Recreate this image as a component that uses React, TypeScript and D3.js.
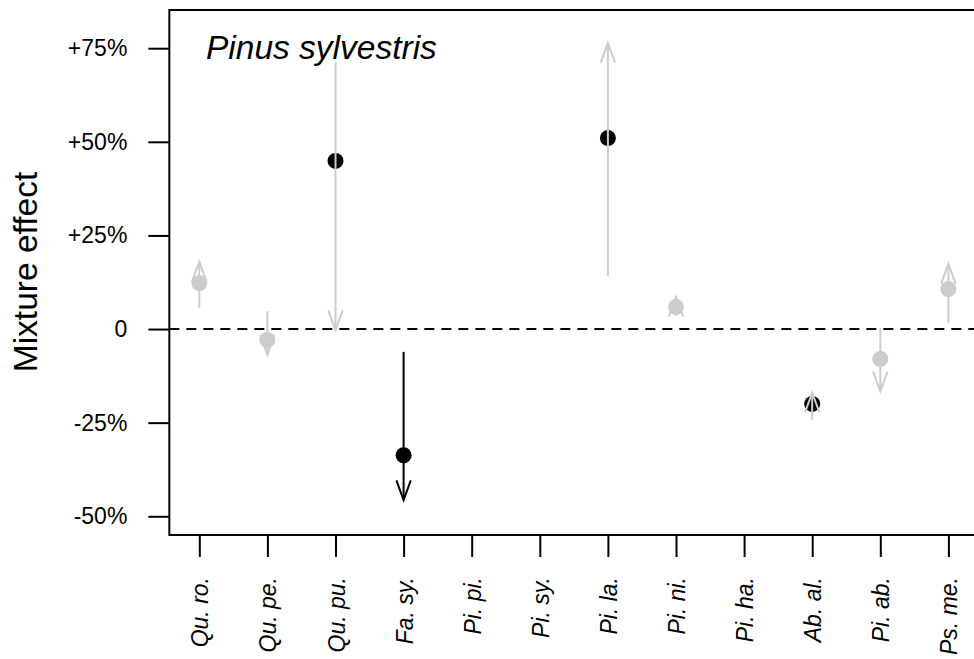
import React, { useEffect, useRef } from 'react';
import * as d3 from 'd3';

// species on the x axis
const species = ['Qu. ro.', 'Qu. pe.', 'Qu. pu.', 'Fa. sy.', 'Pi. pi.', 'Pi. sy.', 'Pi. la.', 'Pi. ni.', 'Pi. ha.', 'Ab. al.', 'Pi. ab.', 'Ps. me.'];
// mixture effect (%) per species, null = no estimate
const effect = [12.3, -2.9, 44.9, -33.7, null, null, 51.0, 5.9, null, -20.0, -8.0, 10.7];
// point drawn black (significant) or grey
const pointBlack = [false, false, true, true, false, false, true, false, false, true, false, false];
// arrows: start and tip (%)
const arrowFrom = [5.7, 4.8, 71.3, -6.1, null, null, 14.2, 3.5, null, -24.3, 0.2, 1.6];
const arrowTo = [18.0, -6.9, -0.3, -45.7, null, null, 76.4, 8.6, null, -17.0, -16.6, 17.4];
const arrowBlack = [false, false, false, true, false, false, false, false, false, false, false, false];

const yTicks = [-50, -25, 0, 25, 50, 75];
const yTickLabels = ['-50%', '-25%', '0', '+25%', '+50%', '+75%'];

const GREY = '#cccccc';
const FONT = 'Liberation Sans, Arial, sans-serif';

const App = () => {
  const ref = useRef<SVGSVGElement>(null);

  useEffect(() => {
    const width = 974;
    const height = 659;

    const svg = d3.select(ref.current);
    svg.selectAll('*').remove();

    // R style: 4% padding around the data range
    const x = d3.scaleLinear().domain([1, 12]).range([199.3, 948.4]);
    const y = d3.scaleLinear().domain([-55.0, 85.2]).range([535, 10]);
    const left = x(0.56);
    const right = x(12.44);
    const top = y(85.2);
    const bottom = y(-55.0);

    // zero line
    svg.append('line')
      .attr('x1', left).attr('x2', right)
      .attr('y1', y(0)).attr('y2', y(0))
      .attr('stroke', '#000')
      .attr('stroke-width', 2)
      .attr('stroke-dasharray', '10 7');

    // points
    species.forEach((s, i) => {
      if (effect[i] == null) return;
      svg.append('circle')
        .attr('cx', x(i + 1))
        .attr('cy', y(effect[i] as number))
        .attr('r', 8)
        .attr('fill', pointBlack[i] ? '#000' : GREY);
    });

    // arrows
    const headLen = 21;
    const ang = (20 * Math.PI) / 180;
    species.forEach((s, i) => {
      if (arrowFrom[i] == null) return;
      const cx = x(i + 1);
      const y0 = y(arrowFrom[i] as number);
      const y1 = y(arrowTo[i] as number);
      const dir = y1 < y0 ? -1 : 1; // -1 pointing up
      const col = arrowBlack[i] ? '#000' : GREY;
      const dx = headLen * Math.sin(ang);
      const dy = headLen * Math.cos(ang) * -dir;
      svg.append('line')
        .attr('x1', cx).attr('x2', cx)
        .attr('y1', y0).attr('y2', y1)
        .attr('stroke', col).attr('stroke-width', 2);
      svg.append('path')
        .attr('d', `M${cx - dx},${y1 + dy}L${cx},${y1}L${cx + dx},${y1 + dy}`)
        .attr('fill', 'none')
        .attr('stroke', col)
        .attr('stroke-width', 2);
    });

    // box
    svg.append('rect')
      .attr('x', left).attr('y', top)
      .attr('width', right - left).attr('height', bottom - top)
      .attr('fill', 'none')
      .attr('stroke', '#000')
      .attr('stroke-width', 2);

    // y axis
    const yAxis = d3.axisLeft(y)
      .tickValues(yTicks)
      .tickSize(21)
      .tickPadding(21)
      .tickFormat((d, i) => yTickLabels[i]);
    const gy = svg.append('g').attr('transform', `translate(${left},0)`).call(yAxis);
    gy.select('.domain').remove();
    gy.selectAll('line').attr('stroke-width', 2);
    gy.selectAll('text')
      .attr('font-family', FONT)
      .attr('font-size', 23)
      .attr('fill', '#000');

    // x axis
    const xAxis = d3.axisBottom(x)
      .tickValues(d3.range(1, species.length + 1))
      .tickSize(22)
      .tickFormat(() => '');
    const gx = svg.append('g').attr('transform', `translate(0,${bottom})`).call(xAxis);
    gx.select('.domain').remove();
    gx.selectAll('line').attr('stroke-width', 2);

    svg.append('g')
      .selectAll('text')
      .data(species)
      .enter()
      .append('text')
      .attr('transform', (d, i) => `translate(${x(i + 1) + 1},${577}) rotate(-90)`)
      .attr('text-anchor', 'end')
      .attr('dominant-baseline', 'central')
      .attr('font-family', FONT)
      .attr('font-style', 'italic')
      .attr('font-size', 23)
      .text(d => d);

    // y title
    svg.append('text')
      .attr('transform', `translate(37,272) rotate(-90)`)
      .attr('text-anchor', 'middle')
      .attr('font-family', FONT)
      .attr('font-size', 33.5)
      .text('Mixture effect');

    // panel title
    svg.append('text')
      .attr('x', 206)
      .attr('y', 59)
      .attr('font-family', FONT)
      .attr('font-style', 'italic')
      .attr('font-size', 33.5)
      .text('Pinus sylvestris');

    svg.attr('width', width).attr('height', height);
  }, []);

  return (
    <div style={{ position: 'absolute', left: 0, top: 0 }}>
      <svg ref={ref} width={974} height={659} style={{ display: 'block', background: '#fff' }} />
    </div>
  );
};

export default App;
